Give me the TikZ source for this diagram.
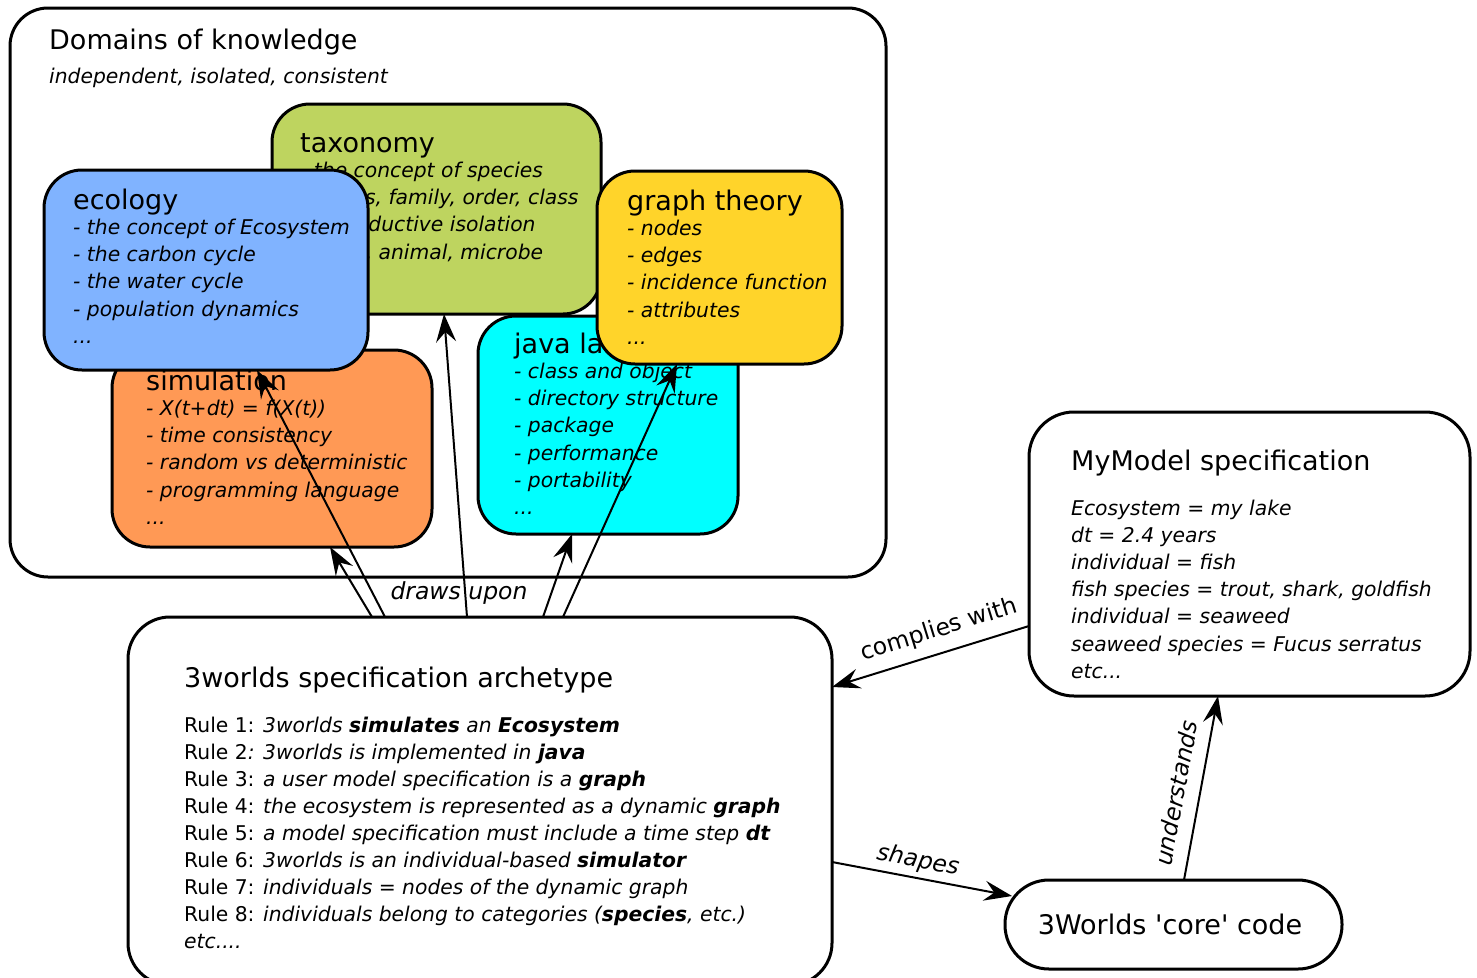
\documentclass[tikz,border=0pt]{standalone}
\usepackage{fontspec}
\setmainfont{DejaVu Sans}
\usetikzlibrary{arrows.meta}

\definecolor{taxgreen}{RGB}{190,212,95}
\definecolor{ecoblue}{RGB}{128,179,255}
\definecolor{simorange}{RGB}{255,153,85}
\definecolor{javacyan}{RGB}{0,255,255}
\definecolor{graphyellow}{RGB}{255,212,42}

\tikzset{
  panel/.style={draw, line width=3pt, rounded corners=38pt, anchor=north west,
    inner sep=0pt, outer sep=0pt},
  ttl/.style={anchor=base west, inner sep=0pt, font=\fontsize{27}{32}\selectfont},
  itm/.style={anchor=base west, inner sep=0pt, font=\fontsize{20.3}{24}\selectfont\itshape},
  rl/.style={anchor=base west, inner sep=0pt, font=\fontsize{20.3}{24}\selectfont},
  lbl/.style={inner sep=0pt, font=\fontsize{23.5}{28}\selectfont},
  lbli/.style={inner sep=0pt, font=\fontsize{23.5}{28}\selectfont\itshape},
  arr/.style={-{Stealth[length=28pt,width=20pt,inset=10pt]}, line width=2pt},
}

% an ellipsis that \foreach does not read as a range
\newcommand{\threedots}{.{}.{}.}

% title and list of a knowledge domain: name, x, title baseline, title, items
\newcommand{\paneltext}[5]{%
  \node[ttl] (#1-title) at (#2,#3) {#4};
  \foreach \entry [count=\k] in {#5}{%
    \node[itm] (#1-item\k) at ({#2},{#3+25.5+27.2*(\k-1)}) {\entry};
  }%
}

\begin{document}
\begin{tikzpicture}[x=1pt,y=-1pt]
\useasboundingbox (0,0) rectangle (1477,977);
\fill[white] (0,0) rectangle (1477,977);

% domains of knowledge
\node[panel, fill=white, minimum width=876pt, minimum height=569pt] (dom) at (10,8) {};
\node[ttl] (dom-title) at (49,49) {Domains of knowledge};
\node[itm] (dom-sub) at (49,83) {independent, isolated, consistent};

\node[panel, fill=taxgreen, minimum width=329pt, minimum height=210pt] (tax) at (272,104) {};
\paneltext{tax}{300}{152}{taxonomy}{{- the concept of species},{- genus, family, order, class},{- reproductive isolation},{- plant, animal, microbe},\threedots}

\node[panel, fill=simorange, minimum width=320pt, minimum height=197pt] (sim) at (112,350) {};
\paneltext{sim}{146}{390}{simulation}{{- X(t+dt) = f(X(t))},{- time consistency},{- random vs deterministic},{- programming language},\threedots}

\node[panel, fill=javacyan, minimum width=260pt, minimum height=218pt] (java) at (478,316) {};
\paneltext{java}{514}{353}{java language}{{- class and object},{- directory structure},{- package},{- performance},{- portability},\threedots}

\node[panel, fill=ecoblue, minimum width=324pt, minimum height=200pt] (eco) at (44,170) {};
\paneltext{eco}{73}{209}{ecology}{{- the concept of Ecosystem},{- the carbon cycle},{- the water cycle},{- population dynamics},\threedots}

\node[panel, fill=graphyellow, minimum width=245pt, minimum height=193pt] (gra) at (597,171) {};
\paneltext{gra}{627}{210}{graph theory}{{- nodes},{- edges},{- incidence function},{- attributes},\threedots}

% specification archetype
\node[panel, fill=white, rounded corners=42pt, minimum width=704pt, minimum height=368pt] (spec) at (128,617) {};
\node[ttl] (spec-title) at (184,687) {3worlds specification archetype};
\node[rl] (rule1) at (184,732.0) {Rule 1: \textit{3worlds \textbf{simulates} an \textbf{Ecosystem}}};
\node[rl] (rule2) at (184,759.1) {Rule 2\textit{: 3worlds is implemented in \textbf{java}}};
\node[rl] (rule3) at (184,786.2) {Rule 3: \textit{a user model specification is a \textbf{graph}}};
\node[rl] (rule4) at (184,813.3) {Rule 4: \textit{the ecosystem is represented as a dynamic \textbf{graph}}};
\node[rl] (rule5) at (184,840.4) {Rule 5: \textit{a model specification must include a time step \textbf{dt}}};
\node[rl] (rule6) at (184,867.5) {Rule 6: \textit{3worlds is an individual-based \textbf{simulator}}};
\node[rl] (rule7) at (184,894.6) {Rule 7: \textit{individuals = nodes of the dynamic graph}};
\node[rl] (rule8) at (184,921.7) {Rule 8: \textit{individuals belong to categories (\textbf{species}, etc.)}};
\node[itm] (rule-etc) at (184,948.8) {etc....};

% user model
\node[panel, fill=white, rounded corners=45pt, minimum width=441pt, minimum height=284pt] (model) at (1029,412) {};
\node[ttl] (model-title) at (1071,470) {MyModel specification};
\node[itm] (model1) at (1071,515.0) {Ecosystem = my lake};
\node[itm] (model2) at (1071,542.2) {dt = 2.4 years};
\node[itm] (model3) at (1071,569.4) {individual = fish};
\node[itm] (model4) at (1071,596.6) {fish species = trout, shark, goldfish};
\node[itm] (model5) at (1071,623.8) {individual = seaweed};
\node[itm] (model6) at (1071,651.0) {seaweed species = Fucus serratus};
\node[itm] (model7) at (1071,678.2) {etc...};

% core code
\node[panel, fill=white, rounded corners=44pt, minimum width=337pt, minimum height=89pt] (core) at (1005,880) {};
\node[inner sep=0pt, font=\fontsize{27}{32}\selectfont] (core-text) at (1170,924) {3Worlds \textquotesingle core\textquotesingle{} code};

% the archetype draws upon the domains
\draw[arr] ([xshift=257pt]spec.north west) -- ([xshift=213pt]eco.south west);
\draw[arr] ([xshift=244pt]spec.north west) -- ([xshift=218pt]sim.south west);
\draw[arr] ([xshift=339pt]spec.north west) -- ([xshift=172pt]tax.south west);
\draw[arr] ([xshift=415pt]spec.north west) -- ([xshift=94pt]java.south west);
\draw[arr] ([xshift=435pt]spec.north west) -- ([xshift=80pt]gra.south west);
\node[lbli] (draws) at (459,593) {draws upon};

\draw[arr] ([yshift=-214pt]model.north west) -- ([yshift=-70pt]spec.north east);
\node[lbl, rotate=17.2] (complies) at (939,630) {complies with};

\draw[arr] ([yshift=-245pt]spec.north east) -- ([xshift=7pt,yshift=-16pt]core.north west);
\node[lbli, rotate=-10.7] (shapes) at (918,861) {shapes};

\draw[arr] ([xshift=179pt]core.north west) -- ([xshift=189pt]model.south west);
\node[lbli, rotate=79.5] (understands) at (1176,793) {understands};
\end{tikzpicture}
\end{document}
